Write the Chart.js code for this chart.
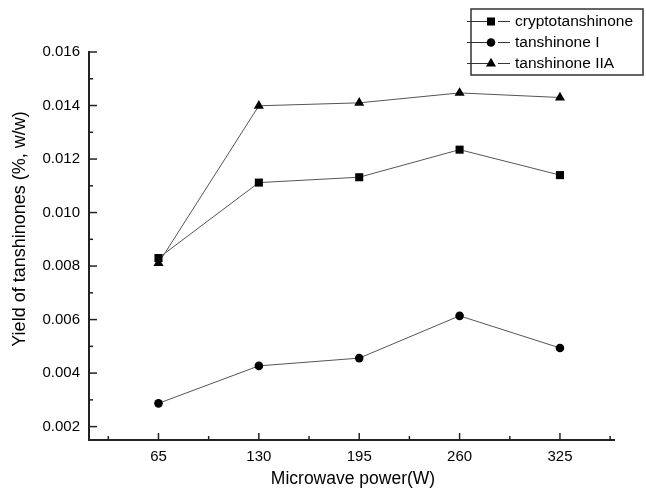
<!DOCTYPE html>
<html>
<head>
<meta charset="utf-8">
<script src="https://cdn.jsdelivr.net/npm/chart.js@4"></script>
<style>
  body { margin: 0; background: #fff; }
</style>
</head>
<body>
<canvas id="myChart" width="646" height="489"></canvas>
<script>
// values
const potencias = [65, 130, 195, 260, 325];
const cryptotanshinone = [0.00830, 0.01112, 0.01132, 0.01235, 0.01140];
const tanshinoneI = [0.00287, 0.00427, 0.00456, 0.00614, 0.00494];
const tanshinoneIIA = [0.00811, 0.01399, 0.01410, 0.01447, 0.01430];
const xTicks = [65, 130, 195, 260, 325];
const yTicks = [0.002, 0.004, 0.006, 0.008, 0.010, 0.012, 0.014, 0.016];

const FUENTE = 'Liberation Sans, Arial, sans-serif';
Chart.defaults.font.family = FUENTE;
Chart.defaults.color = '#000';

function puntos(valores){
    const datos = [];
    for(let i = 0; i < potencias.length; i++){
        datos.push({x: potencias[i], y: valores[i]});
    }
    return datos;
}

function serie(label, valores, estilo, radio){
    return {
        label: label,
        data: puntos(valores),
        borderColor: '#555',
        borderWidth: 1,
        pointStyle: estilo,
        pointRadius: radio,
        pointHoverRadius: radio,
        pointBackgroundColor: '#000',
        pointBorderColor: '#000',
        pointBorderWidth: 0,
        tension: 0
    };
}

function linea(ctx, x1, y1, x2, y2){
    ctx.beginPath();
    ctx.moveTo(x1, y1);
    ctx.lineTo(x2, y2);
    ctx.stroke();
}

// inward ticks, axis titles and the boxed legend
const adornos = {
    id: 'adornos',
    afterDraw(chart){
        const ctx = chart.ctx;
        const xs = chart.scales.x;
        const ys = chart.scales.y;
        const area = chart.chartArea;
        ctx.save();
        ctx.strokeStyle = '#222';
        ctx.lineWidth = 1.5;

        yTicks.forEach((v, i) => {
            const py = ys.getPixelForValue(v);
            linea(ctx, area.left, py, area.left + 8, py);
            if(i < yTicks.length - 1){
                const pm = ys.getPixelForValue((v + yTicks[i + 1]) / 2);
                linea(ctx, area.left, pm, area.left + 4, pm);
            }
        });

        const paso = xTicks[1] - xTicks[0];
        xTicks.forEach((v) => {
            const px = xs.getPixelForValue(v);
            linea(ctx, px, area.bottom, px, area.bottom - 7);
            const pm = xs.getPixelForValue(v - paso / 2);
            linea(ctx, pm, area.bottom, pm, area.bottom - 4);
        });
        const ultimo = xs.getPixelForValue(xTicks[xTicks.length - 1] + paso / 2);
        linea(ctx, ultimo, area.bottom, ultimo, area.bottom - 4);

        // axis titles
        ctx.fillStyle = '#000';
        ctx.textAlign = 'center';
        ctx.textBaseline = 'middle';
        ctx.font = '17.5px ' + FUENTE;
        ctx.fillText('Microwave power(W)', 353, 479);
        ctx.save();
        ctx.translate(20, 229);
        ctx.rotate(-Math.PI / 2);
        ctx.font = '18px ' + FUENTE;
        ctx.fillText('Yield of tanshinones (%, w/w)', 0, 0);
        ctx.restore();

        // legend
        ctx.lineWidth = 1.5;
        ctx.strokeStyle = '#333';
        ctx.strokeRect(471, 9, 172, 66);
        ctx.textAlign = 'left';
        ctx.font = '15.5px ' + FUENTE;
        const filas = [21.5, 42.5, 63.5];
        chart.data.datasets.forEach((ds, i) => {
            const y = filas[i];
            ctx.strokeStyle = '#333';
            ctx.lineWidth = 1;
            linea(ctx, 467, y, 491, y);
            linea(ctx, 498, y, 510, y);
            ctx.fillStyle = '#000';
            Chart.helpers.drawPoint(ctx, {
                pointStyle: ds.pointStyle,
                radius: ds.pointRadius,
                rotation: 0,
                borderWidth: 0
            }, 491, y);
            ctx.fillStyle = '#000';
            ctx.fillText(ds.label, 515, y);
        });
        ctx.restore();
    }
};

let ctx = document.getElementById('myChart').getContext('2d');
const myChart = new Chart(ctx, {
    type: 'line',
    data: {
        datasets: [
            serie('cryptotanshinone', cryptotanshinone, 'rect', 5.7),
            serie('tanshinone I', tanshinoneI, 'circle', 4.3),
            serie('tanshinone IIA', tanshinoneIIA, 'triangle', 5.8)
        ]
    },
    options: {
        responsive: false,
        animation: false,
        devicePixelRatio: 1,
        layout: {
            padding: {left: 0, right: 32, top: 52, bottom: 0}
        },
        plugins: {
            legend: {display: false},
            tooltip: {enabled: false}
        },
        scales: {
            x: {
                type: 'linear',
                min: 20,
                max: 360,
                afterFit: (scale) => { scale.height = 49; },
                afterBuildTicks: (scale) => {
                    scale.ticks = xTicks.map((v) => ({value: v}));
                },
                grid: {display: true, drawOnChartArea: false, drawTicks: false},
                border: {display: true, color: '#222', width: 2},
                ticks: {
                    padding: 8,
                    font: {size: 15},
                    maxRotation: 0,
                    callback: (v) => String(v)
                }
            },
            y: {
                min: 0.0015,
                max: 0.016,
                afterFit: (scale) => { scale.width = 89; },
                afterBuildTicks: (scale) => {
                    scale.ticks = yTicks.map((v) => ({value: v}));
                },
                grid: {display: true, drawOnChartArea: false, drawTicks: false},
                border: {display: true, color: '#222', width: 2},
                ticks: {
                    padding: 9,
                    font: {size: 15},
                    callback: (v) => Number(v).toFixed(3)
                }
            }
        }
    },
    plugins: [adornos]
});
</script>
</body>
</html>
